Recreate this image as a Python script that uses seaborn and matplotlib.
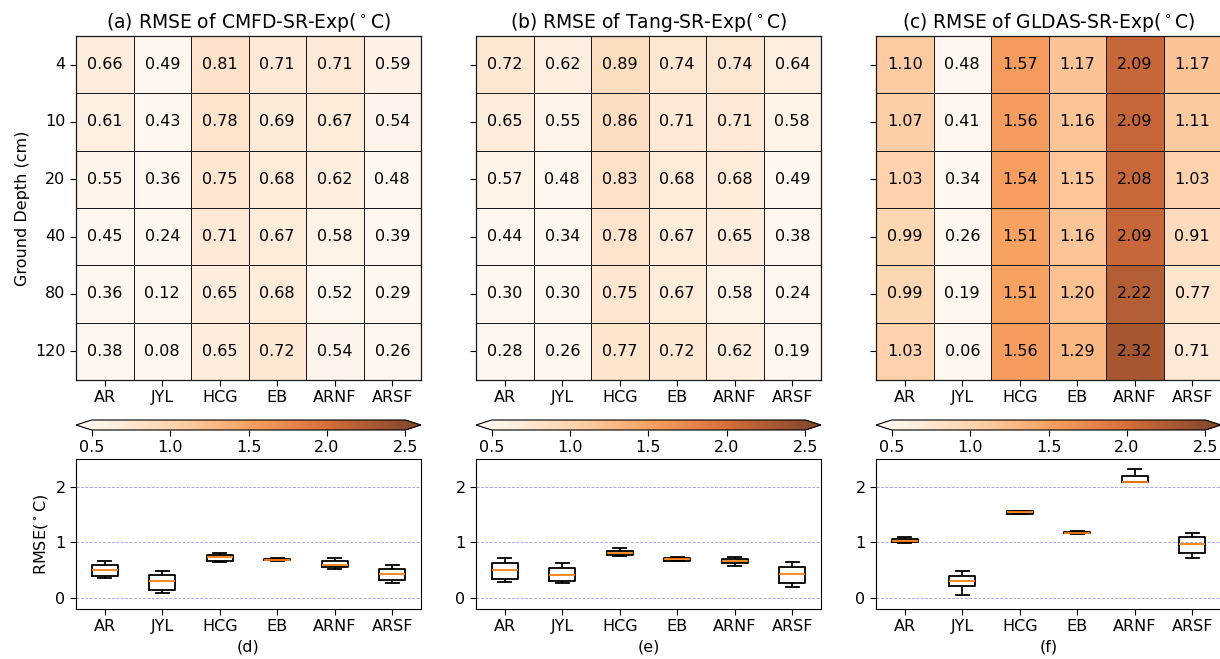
import numpy as np
import pandas as pd
import matplotlib
matplotlib.use("Agg")
import matplotlib.pyplot as plt
from matplotlib.colors import LinearSegmentedColormap
import seaborn as sns

sites = ["AR", "JYL", "HCG", "EB", "ARNF", "ARSF"]
depths = [4, 10, 20, 40, 80, 120]

rmse_cmfd = [
    [0.66, 0.49, 0.81, 0.71, 0.71, 0.59],
    [0.61, 0.43, 0.78, 0.69, 0.67, 0.54],
    [0.55, 0.36, 0.75, 0.68, 0.62, 0.48],
    [0.45, 0.24, 0.71, 0.67, 0.58, 0.39],
    [0.36, 0.12, 0.65, 0.68, 0.52, 0.29],
    [0.38, 0.08, 0.65, 0.72, 0.54, 0.26],
]
rmse_tang = [
    [0.72, 0.62, 0.89, 0.74, 0.74, 0.64],
    [0.65, 0.55, 0.86, 0.71, 0.71, 0.58],
    [0.57, 0.48, 0.83, 0.68, 0.68, 0.49],
    [0.44, 0.34, 0.78, 0.67, 0.65, 0.38],
    [0.30, 0.30, 0.75, 0.67, 0.58, 0.24],
    [0.28, 0.26, 0.77, 0.72, 0.62, 0.19],
]
rmse_gldas = [
    [1.10, 0.48, 1.57, 1.17, 2.09, 1.17],
    [1.07, 0.41, 1.56, 1.16, 2.09, 1.11],
    [1.03, 0.34, 1.54, 1.15, 2.08, 1.03],
    [0.99, 0.26, 1.51, 1.16, 2.09, 0.91],
    [0.99, 0.19, 1.51, 1.20, 2.22, 0.77],
    [1.03, 0.06, 1.56, 1.29, 2.32, 0.71],
]

titles = ["(a) RMSE of CMFD-SR-Exp($^\\circ$C)",
          "(b) RMSE of Tang-SR-Exp($^\\circ$C)",
          "(c) RMSE of GLDAS-SR-Exp($^\\circ$C)"]
box_labels = ["(d)", "(e)", "(f)"]

cmap = LinearSegmentedColormap.from_list(
    "rmse", [(0.0, "#fff7f0"), (0.25, "#fdd5b0"), (0.5, "#f9a362"),
             (0.75, "#d56e3c"), (1.0, "#8b4a2d")])

W, H = 1220, 659
fig = plt.figure(figsize=(12.2, 6.59), dpi=100)

lefts = [76, 476, 876]
pw = 345

for i, data in enumerate([rmse_cmfd, rmse_tang, rmse_gldas]):
    x0 = lefts[i] / W
    ax = fig.add_axes([x0, (H - 380) / H, pw / W, 344 / H])
    cax = fig.add_axes([x0, (H - 430) / H, pw / W, 10 / H])
    bax = fig.add_axes([x0, (H - 609) / H, pw / W, 150 / H])

    df = pd.DataFrame(data, index=depths, columns=sites)
    sns.heatmap(df, ax=ax, cmap=cmap, vmin=0.5, vmax=2.5, annot=True, fmt=".2f",
                annot_kws={"color": "black", "fontsize": 11.5},
                linewidths=0.6, linecolor="#1a1a1a",
                cbar_ax=cax, cbar_kws={"orientation": "horizontal", "extend": "both",
                                       "ticks": [0.5, 1.0, 1.5, 2.0, 2.5]})
    for sp in ax.spines.values():
        sp.set_visible(True)
        sp.set_linewidth(0.9)
        sp.set_color("#1a1a1a")
    ax.set_title(titles[i], fontsize=13.5, pad=6)
    ax.tick_params(axis="both", labelsize=11.5, length=4)
    ax.set_yticklabels([str(d) for d in depths], rotation=0)
    ax.set_xticklabels(sites, rotation=0)
    ax.set_xlabel("")
    if i == 0:
        ax.set_ylabel("Ground Depth (cm)", fontsize=11.5)
    else:
        ax.set_yticklabels([])
        ax.set_ylabel("")
    cax.tick_params(labelsize=11.5, length=4)
    cb = ax.collections[0].colorbar
    cb.outline.set_linewidth(0.8)

    long = df.reset_index().melt(id_vars="index", var_name="site", value_name="rmse")
    sns.boxplot(data=long, x="site", y="rmse", order=sites, ax=bax,
                fill=False, color="black", width=0.45, linewidth=1.3,
                medianprops={"color": "#ff7f0e", "linewidth": 1.3},
                whiskerprops={"color": "black"}, capprops={"color": "black"},
                showfliers=False)
    bax.set_ylim(-0.2, 2.5)
    bax.set_yticks([0, 1, 2])
    bax.yaxis.grid(True, linestyle="--", color="#9c9cd6", linewidth=0.6)
    bax.set_axisbelow(True)
    bax.tick_params(axis="both", labelsize=11.5, length=4)
    bax.set_xlabel(box_labels[i], fontsize=11.5)
    if i == 0:
        bax.set_ylabel("RMSE($^\\circ$C)", fontsize=11.5)
    else:
        bax.set_ylabel("")

fig.savefig("out.png", dpi=100)
